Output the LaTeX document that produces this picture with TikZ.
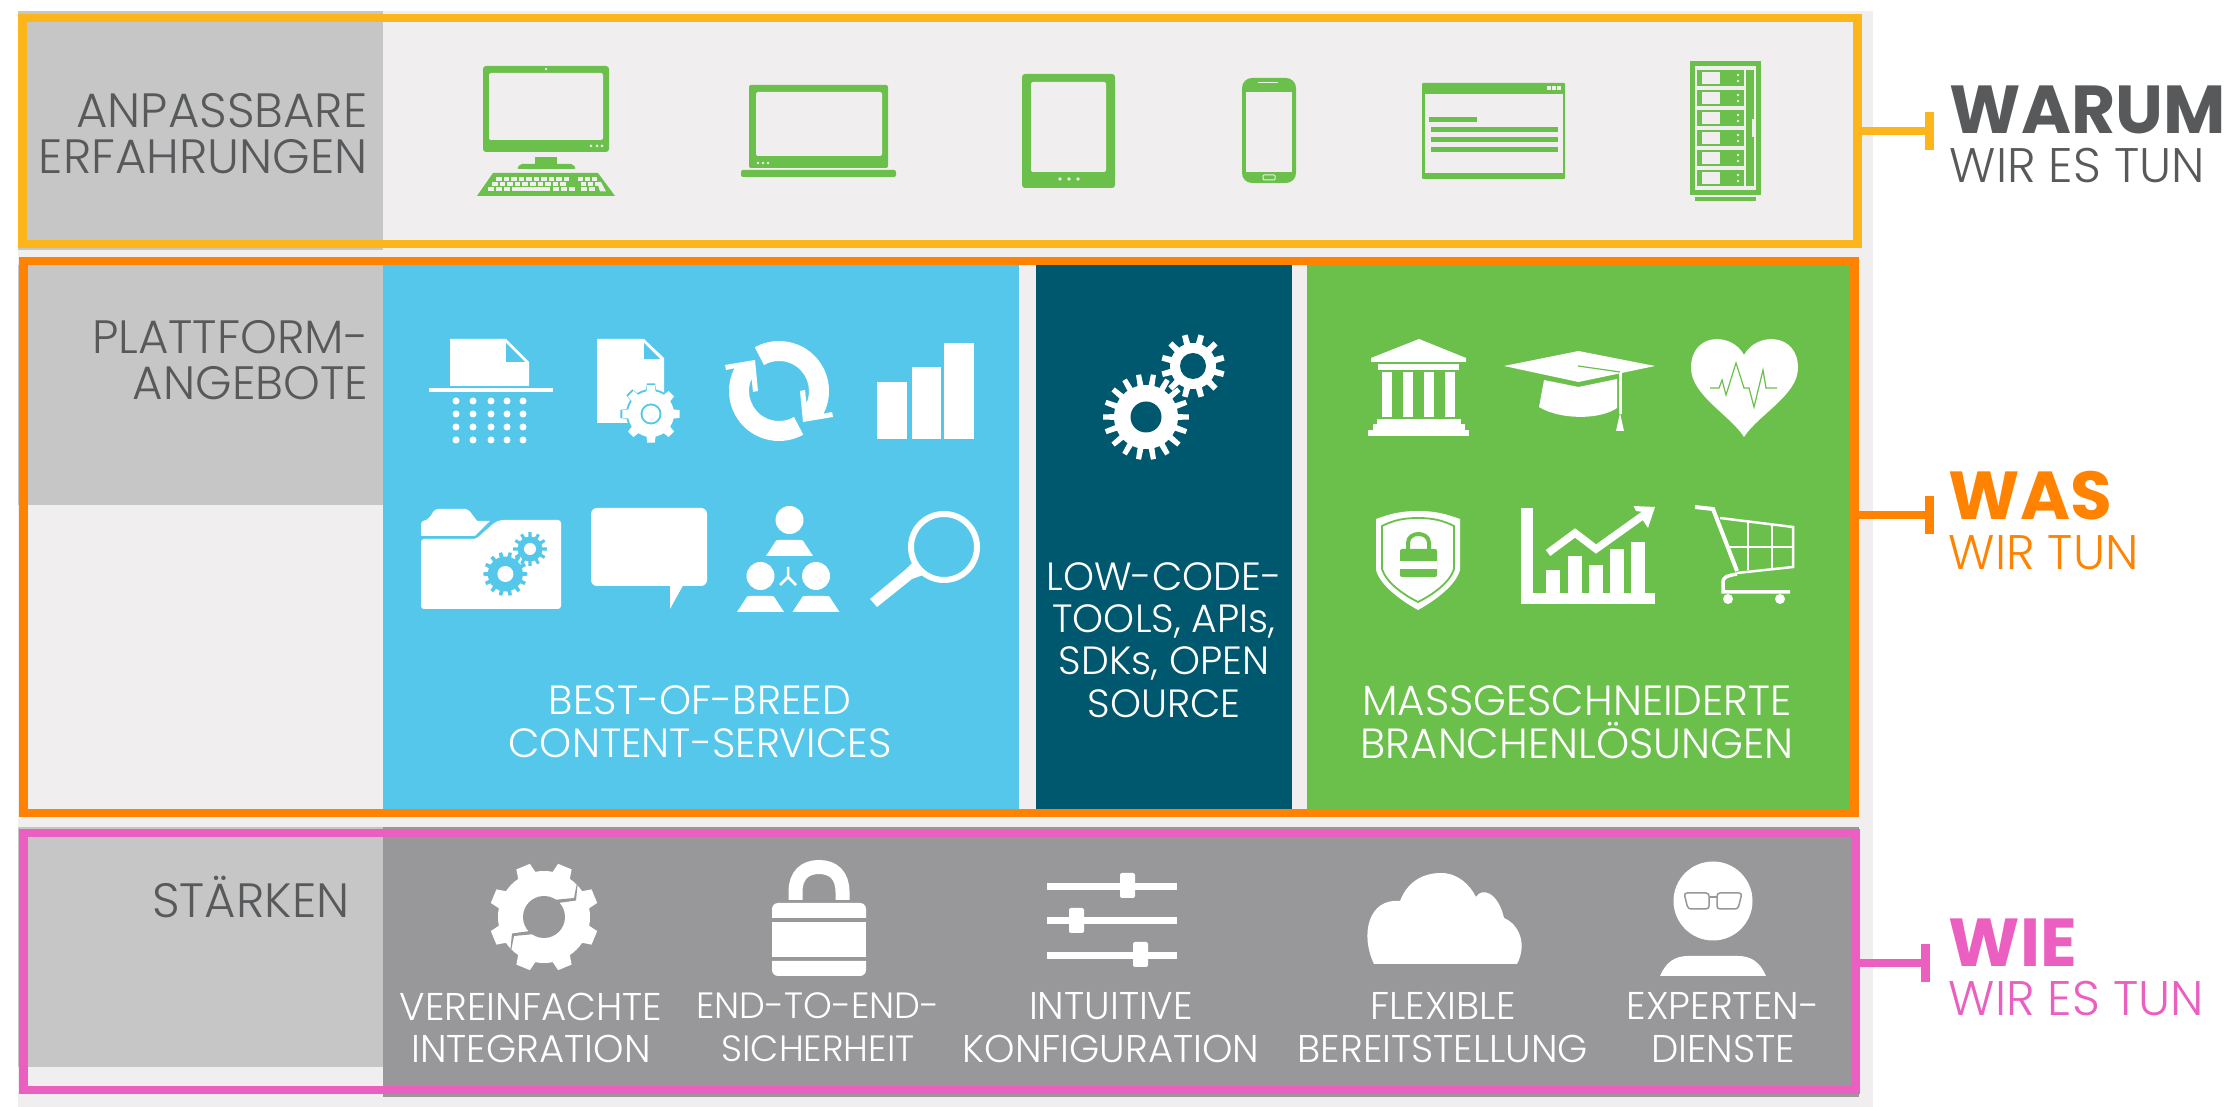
\documentclass[tikz,border=0pt]{standalone}
\usepackage{fontspec}
\setmainfont{Poppins Light}
\newfontfamily\boldfont{Poppins Bold}
\usetikzlibrary{calc}
\definecolor{pagegray}{HTML}{F0EEEF}
\definecolor{labelgray}{HTML}{C6C6C6}
\definecolor{textgray}{HTML}{58595B}
\definecolor{warumcol}{HTML}{FDB51C}
\definecolor{wascol}{HTML}{FF8200}
\definecolor{wiecol}{HTML}{EA5FBF}
\definecolor{bluepanel}{HTML}{55C7EA}
\definecolor{navypanel}{HTML}{00586E}
\definecolor{greenpanel}{HTML}{6BBF4B}
\definecolor{graypanel}{HTML}{98989A}
\tikzset{
  ringbox/.style={draw=#1, line width=.085cm, inner sep=0pt, outer sep=0pt},
  teebar/.style={fill=#1, inner sep=0pt, outer sep=0pt, minimum width=.09cm, minimum height=.38cm},
  teeline/.style={draw=#1, line width=.08cm},
  sidelabel/.style={text=textgray, inner sep=0pt, anchor=north east, align=right, font=\fontsize{13.7}{13.1}\selectfont},
  panellabel/.style={text=white, inner sep=0pt, anchor=north, align=center, font=\fontsize{12}{12.3}\selectfont},
  baselabel/.style={text=white, inner sep=0pt, anchor=north, align=center, font=\fontsize{11}{12.2}\selectfont},
  bigword/.style={inner sep=0pt, anchor=north west, font=\fontsize{19.3}{20}\boldfont},
  smallword/.style={inner sep=0pt, anchor=north west, font=\fontsize{13.8}{14}\selectfont},
}
% body radius, tip radius, teeth, colour, hole radius, hole colour, turn
\newcommand{\gearicon}[9]{\begin{scope}[shift={(#1,#2)}]
  \fill[#6] (0,0) circle[radius=#3];
  \pgfmathsetmacro\gearstep{360/#5}
  \foreach \i in {1,...,#5} {
    \pgfmathsetmacro\gearang{\i*\gearstep+#9}
    \fill[#6] (\gearang-.27*\gearstep:#3-1) -- (\gearang-.17*\gearstep:#4) -- (\gearang+.17*\gearstep:#4) -- (\gearang+.27*\gearstep:#3-1) -- cycle;
  }
  \fill[#8] (0,0) circle[radius=#7];
\end{scope}}
\newcommand{\personicon}[2]{\begin{scope}[shift={(#1,#2)}]
  \fill[white] (0,0) circle[radius=14];
  \fill[white] (-23.5,36) -- (-15,23) .. controls (-14,20) and (-13,20) .. (-10,20) -- (10,20) .. controls (13,20) and (14,20) .. (15,23) -- (23.5,36) -- cycle;
\end{scope}}
\begin{document}
\begin{tikzpicture}[x=.01cm,y=-.01cm]
\useasboundingbox (0,0) rectangle (2236,1107);
\fill[pagegray] (18,11) rectangle (1873,1107);
\fill[labelgray] (18,11) rectangle (383,250);
\fill[labelgray] (18,265) rectangle (383,505);
\fill[labelgray] (18,827) rectangle (383,1067);
\fill[bluepanel] (383,265) rectangle (1019,809);
\fill[navypanel] (1036,265) rectangle (1292,809);
\fill[greenpanel] (1307,265) rectangle (1852,809);
\fill[graypanel] (383,827) rectangle (1859,1097);

% frames and tees
\node[ringbox=warumcol, minimum width=18.34cm, minimum height=2.26cm] (warumframe) at (940,131) {};
\node[ringbox=wascol, minimum width=18.30cm, minimum height=5.52cm] (wasframe) at (939,537) {};
\node[ringbox=wiecol, minimum width=18.31cm, minimum height=2.57cm] (wieframe) at (939.5,961.5) {};
\node[teebar=warumcol] (warumtee) at (1929,131) {};
\node[teebar=wascol] (wastee) at (1929,515) {};
\node[teebar=wiecol] (wietee) at (1925,963) {};
\draw[teeline=warumcol] (warumframe.east |- warumtee) -- (warumtee);
\draw[teeline=wascol] (wasframe.east |- wastee) -- (wastee);
\draw[teeline=wiecol] (wieframe.east |- wietee) -- (wietee);

% texts
\node[sidelabel] (anpasslabel) at (368,93) {ANPASSBARE\\ERFAHRUNGEN};
\node[sidelabel, font=\fontsize{13.3}{13.1}\selectfont] (plattlabel) at (369,320) {PLATTFORM-\\ANGEBOTE};
\node[sidelabel, anchor=base east] (staerklabel) at (350,918) {STÄRKEN};
\node[bigword, text=textgray] (warumword) at (1949,85) {WARUM};
\node[smallword, text=textgray] (warumsub) at (1949,147) {WIR ES TUN};
\node[bigword, text=wascol] (wasword) at (1948,470) {WAS};
\node[smallword, text=wascol] (wassub) at (1948,535) {WIR TUN};
\node[bigword, text=wiecol] (wieword) at (1948,918) {WIE};
\node[smallword, text=wiecol] (wiesub) at (1948,980) {WIR ES TUN};
\node[panellabel, font=\fontsize{11.6}{12.3}\selectfont] (bestlabel) at (700,685) {BEST-OF-BREED\\CONTENT-SERVICES};
\node[panellabel, font=\fontsize{11.2}{12}\selectfont] (lowlabel) at (1164,562) {LOW-CODE-\\TOOLS, APIs,\\SDKs, OPEN\\SOURCE};
\node[panellabel] (masslabel) at (1577,685) {MASSGESCHNEIDERTE\\BRANCHENLÖSUNGEN};
\node[baselabel] (easelabel) at (531,992) {VEREINFACHTE\\INTEGRATION};
\node[baselabel, font=\fontsize{10.4}{12.2}\selectfont] (securelabel) at (818,992) {END-TO-END-\\SICHERHEIT};
\node[baselabel] (configlabel) at (1111,992) {INTUITIVE\\KONFIGURATION};
\node[baselabel] (flexlabel) at (1443,992) {FLEXIBLE\\BEREITSTELLUNG};
\node[baselabel] (expertlabel) at (1723,992) {EXPERTEN-\\DIENSTE};

% monitor
\fill[greenpanel, rounded corners=.03cm] (483,66) rectangle (609,152);
\fill[pagegray, rounded corners=.02cm] (489,73) rectangle (603,140);
\fill[pagegray] (546,69) circle[radius=1.3];
\foreach \d in {591,597,602} \fill[pagegray] (\d,146) circle[radius=1.5];
\fill[greenpanel] (535,157) rectangle (557,165);
\fill[greenpanel, rounded corners=.02cm] (517,169) -- (520,164) -- (573,164) -- (576,169) -- cycle;
\fill[greenpanel] (493,173) -- (598,173) -- (615,196) -- (477,196) -- cycle;
\foreach \d in {496,503.5,...,566} \fill[pagegray] (\d,177) rectangle ++(5.5,4);
\foreach \d in {578,585,592} \fill[pagegray] (\d,177) rectangle ++(5,4);
\foreach \d in {492,499.6,...,568} \fill[pagegray] (\d,182) rectangle ++(5.5,4);
\foreach \d in {581,588,595} \fill[pagegray] (\d,182) rectangle ++(5,4);
\foreach \d in {488,496,504,553,561,569} \fill[pagegray] (\d,187) rectangle ++(6,4.5);
\fill[pagegray] (512,187) rectangle (550,191.5);
\foreach \d in {581,589} \fill[pagegray] (\d,187) rectangle ++(6,4.5);
\fill[pagegray] (597,182) -- (601,182) -- (606,191.5) -- (600,191.5) -- cycle;

% laptop
\fill[greenpanel, rounded corners=.02cm] (749,85) rectangle (888,168);
\fill[pagegray, rounded corners=.02cm] (756,92) rectangle (882,156);
\foreach \d in {758,763,768} \fill[pagegray] (\d,163) circle[radius=1.4];
\fill[greenpanel, rounded corners=.02cm] (741,170) rectangle (896,177);

% tablet
\fill[greenpanel, rounded corners=.03cm] (1022,74) rectangle (1115,188);
\fill[pagegray, rounded corners=.02cm] (1031,82) rectangle (1106,172);
\foreach \d in {1060,1069,1078} \fill[pagegray] (\d,179) circle[radius=1.8];

% phone
\fill[greenpanel, rounded corners=.1cm] (1242,78) rectangle (1296,183);
\fill[pagegray] (1246,92) rectangle (1292,172);
\fill[pagegray] (1258,82) rectangle (1278,83.5);
\draw[pagegray, line width=.01cm, rounded corners=.01cm] (1263,175) rectangle (1275,180);

% window
\fill[greenpanel, rounded corners=.01cm] (1422,83) rectangle (1565,179);
\fill[pagegray] (1425,94) rectangle (1563,173);
\foreach \d in {1547,1552,1557} \fill[pagegray] (\d,86) rectangle ++(3.5,4.5);
\fill[greenpanel] (1429,117) rectangle (1477,122);
\foreach \d in {127,137,147} \fill[greenpanel] (1431,\d) rectangle (1558,\d+5);

% server
\fill[greenpanel] (1690,61) rectangle (1761,195);
\fill[pagegray] (1695,66) rectangle (1756,190);
\fill[greenpanel] (1695,197) rectangle (1756,201);
\fill[greenpanel] (1746,70) rectangle (1754,186);
\fill[pagegray] (1752,119) rectangle (1754,137);
\foreach \d in {70,90,110,130,150,170} {
  \fill[greenpanel] (1697,\d) rectangle (1744,\d+16);
  \fill[pagegray] (1702,\d+2) rectangle (1720,\d+14);
  \fill[pagegray] (1738,\d+5) circle[radius=1.3];
  \fill[pagegray] (1738,\d+11) circle[radius=1.3];
}

% shredder
\fill[white] (450,339) -- (506,339) -- (529,362) -- (529,386) -- (450,386) -- cycle;
\fill[bluepanel] (506,343) -- (506,362) -- (525,362) -- cycle;
\fill[white] (429,388) rectangle (553,392);
\foreach \d in {456,473,491,507,523} \foreach \e in {401,414,427,440} \fill[white] (\d,\e) circle[radius=3.5];

% document with gear
\fill[white] (597,339) -- (644,339) -- (664,358) -- (664,423) -- (597,423) -- cycle;
\fill[bluepanel] (644,343) -- (644,359) -- (660,359) -- cycle;
\gearicon{651}{414}{25}{31}{8}{bluepanel}{10}{bluepanel}{0}
\gearicon{651}{414}{23}{29}{8}{white}{10.5}{bluepanel}{0}
\fill[white] (651,414) circle[radius=8.5];

% refresh arrows
\begin{scope}[shift={(779,391)}]
\foreach \t in {0,180} {\begin{scope}[rotate=\t]
\fill[white] (241:50) arc[start angle=241,end angle=387,radius=50] -- (53,21) -- (54,26) -- (24,31) -- (21,0) -- (26,-1) -- (384:30) arc[start angle=384,end angle=240,radius=30] -- cycle;
\end{scope}}
\end{scope}

% bars
\fill[white] (877,382) rectangle (906.5,439);
\fill[white] (911.5,367) rectangle (940.5,439);
\fill[white] (944,343) rectangle (973.5,439);

% folder with gears
\fill[white, rounded corners=.03cm] (421,536) -- (421,521) -- (428,520) -- (435,509) -- (468,509) -- (477,521);
\fill[white] (421,536) -- (421,525) -- (435,512) -- (470,512) -- (477,521) -- (490,521) -- (475,536) -- cycle;
\fill[white, rounded corners=.03cm] (421,609) -- (421,539) -- (476,539) -- (494,523) -- (500,520) -- (561,520) -- (561,609) -- cycle;
\gearicon{505.4}{574}{17.5}{22}{14}{bluepanel}{8}{white}{0}
\gearicon{530}{549}{12.5}{17}{12}{bluepanel}{6}{white}{0}

% speech bubble
\fill[white, rounded corners=.06cm] (591,508) rectangle (707,586);
\fill[white] (670,580) -- (670,609) -- (686,580) -- cycle;

% people
\personicon{789.5}{520}
\personicon{760.5}{576}
\personicon{816}{576}
\draw[white, line width=.025cm] (788,567) -- (788,577) -- (780,585) (788,577) -- (796,585);

% magnifier
\draw[white, line width=.06cm] (944,547) circle[radius=33];
\fill[white] (905,570) -- (870,599) -- (877,607) -- (912,579) -- cycle;
\fill[white] (912,563) -- (905,570) -- (912,579) -- (923,575) -- cycle;

% gears
\gearicon{1146}{417}{32}{43}{18}{white}{15.5}{navypanel}{0}
\gearicon{1193}{366}{23}{32}{12}{white}{13}{navypanel}{15}

% bank
\fill[white] (1419,339) -- (1466,358) -- (1466,362) -- (1371,362) -- (1371,358) -- cycle;
\fill[white] (1378,364) rectangle (1459,370);
\foreach \d in {1381.5,1402.5,1424,1445} \fill[white] (\d,372) rectangle (\d+10,417);
\fill[white] (1377,419) rectangle (1461,424);
\fill[white] (1373,424) rectangle (1465,430);
\fill[white] (1368,430) rectangle (1469,436);

% graduation cap
\fill[white] (1504,366) -- (1578.5,351) -- (1655,366) -- (1578.5,382) -- cycle;
\fill[white] (1544,380) -- (1578.5,387) -- (1617,379) -- (1617,408) .. controls (1600,420) and (1560,420) .. (1539,407) -- cycle;
\draw[greenpanel, line width=.012cm] (1578,366) -- (1620,372);
\fill[white] (1618.5,373) rectangle (1621.5,414);
\fill[white] (1620,413) -- (1624,431) -- (1616,431) -- cycle;

% heart
\fill[white] (1744,355) .. controls (1732,332) and (1691,332) .. (1691,368) .. controls (1691,395) and (1730,415) .. (1744,437) .. controls (1758,415) and (1798,395) .. (1798,368) .. controls (1798,332) and (1756,332) .. (1744,355) -- cycle;
\draw[greenpanel, line width=.012cm] (1710,388) -- (1719,388) -- (1722,380) -- (1726,395) -- (1736,363) -- (1744,388) -- (1749,388) -- (1754,407) -- (1763,370) -- (1766,388) -- (1777,388);

% shield
\fill[white] (1418,511) .. controls (1400,511) and (1390,514) .. (1376,519) -- (1376,570) .. controls (1380,585) and (1400,600) .. (1418,610) .. controls (1436,600) and (1456,585) .. (1460,570) -- (1460,519) .. controls (1446,514) and (1436,511) .. (1418,511) -- cycle;
\draw[greenpanel, line width=.018cm] (1418,518) .. controls (1402,518) and (1392,521) .. (1382,526) -- (1382,569) .. controls (1386,582) and (1402,594) .. (1418,602) .. controls (1434,594) and (1450,582) .. (1454,569) -- (1454,526) .. controls (1444,521) and (1434,518) .. (1418,518) -- cycle;
\draw[greenpanel, line width=.04cm] (1408,549) -- (1408,543) .. controls (1408,531) and (1429,531) .. (1429,543) -- (1429,549);
\fill[greenpanel, rounded corners=.02cm] (1400,549) rectangle (1437,577);
\fill[white] (1400,561) rectangle (1437,569);

% chart
\fill[white] (1521,508) rectangle (1532.5,604);
\fill[white] (1521,593) rectangle (1655,604);
\foreach \d/\e in {1546/570,1568/556,1589/565,1610/549,1630.5/542} \fill[white] (\d,\e) rectangle (\d+14,594);
\draw[white, line width=.075cm] (1548,553) -- (1575,533) -- (1596,549) -- (1645,514);
\fill[white] (1655,507) -- (1633.5,506) -- (1636,511) -- (1643,512) -- (1642,519) -- (1648,528) -- cycle;

% cart
\draw[white, line width=.04cm] (1695,507) -- (1713,509) -- (1737,571);
\draw[white, line width=.025cm] (1720,518) -- (1793,527) -- (1793,567) -- (1737,573);
\draw[white, line width=.025cm] (1727,547) -- (1792,547) (1748,520) -- (1748,570) (1772,523) -- (1772,568);
\draw[white, line width=.035cm] (1737,574) .. controls (1725,576) and (1723,578) .. (1723,582) -- (1723,592) -- (1790,592);
\fill[white] (1728,599) circle[radius=5];
\fill[white] (1780,599) circle[radius=5];

% integration gear
\gearicon{544}{917}{46}{55}{8}{white}{21}{graypanel}{22.5}
\begin{scope}[shift={(544,917)}]
\foreach \t in {0,180} {\begin{scope}[rotate=\t]
\fill[graypanel] (7,-13) -- (32,-16.5) -- (34.5,-42) -- (30,-19) -- (9,-17) -- cycle;
\end{scope}}
\end{scope}

% padlock
\draw[white, line width=.14cm] (795.5,900) -- (795.5,892) .. controls (795.5,875) and (805,867) .. (819,867) .. controls (833,867) and (842.5,875) .. (842.5,892) -- (842.5,900);
\fill[white] (772,918) [rounded corners=.06cm] -- (772,903) -- (866,903) [sharp corners] -- (866,918) -- cycle;
\fill[white] (772,922) rectangle (866,957);
\fill[white] (772,961) [rounded corners=.06cm] -- (772,976) -- (866,976) [sharp corners] -- (866,961) -- cycle;

% sliders
\foreach \e in {883,917,952} \fill[white] (1047,\e) rectangle (1177,\e+7);
\fill[white, rounded corners=.02cm] (1120,873) rectangle (1135,898);
\fill[white, rounded corners=.02cm] (1069,908) rectangle (1084,933);
\fill[white, rounded corners=.02cm] (1133,942) rectangle (1148,967);

% cloud
\fill[white] (1374,964) .. controls (1360,935) and (1368,898) .. (1400,901) .. controls (1408,880) and (1425,873) .. (1441,873) .. controls (1458,873) and (1470,885) .. (1476,897) .. controls (1482,887) and (1498,892) .. (1504,918) .. controls (1520,925) and (1527,945) .. (1517,964) -- cycle;

% expert
\fill[white] (1713,901) circle[radius=39.5];
\fill[white] (1660,976) .. controls (1666,962) and (1675,956) .. (1688,956) -- (1738,956) .. controls (1751,956) and (1760,962) .. (1766,976) -- cycle;
\draw[graypanel, line width=.015cm, rounded corners=.03cm] (1684,893) -- (1709,893) -- (1709,909) -- (1688,909) -- cycle;
\draw[graypanel, line width=.015cm, rounded corners=.03cm] (1717,893) -- (1742,893) -- (1738,909) -- (1717,909) -- cycle;
\draw[graypanel, line width=.015cm] (1709,897) -- (1717,897);
\end{tikzpicture}
\end{document}
